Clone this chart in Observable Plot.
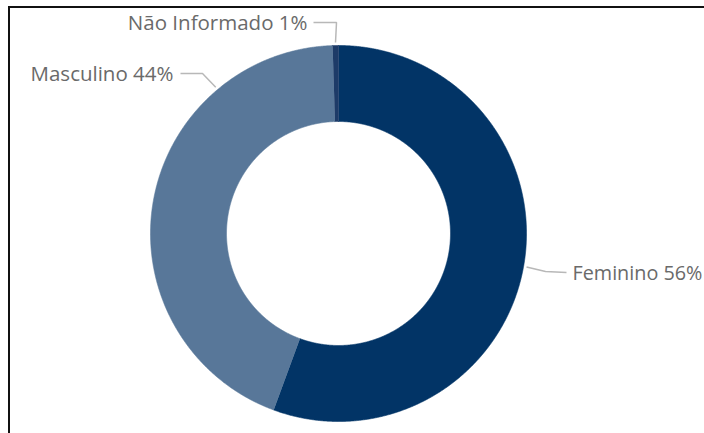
<!DOCTYPE html>
<html>
<head>
<meta charset="utf-8">
<script src="https://cdn.jsdelivr.net/npm/d3@7"></script>
<script src="https://cdn.jsdelivr.net/npm/@observablehq/plot@0.6"></script>
<style>
  html, body { margin: 0; padding: 0; background: #fff; overflow: hidden; }
</style>
</head>
<body>
<div id="chart"></div>
<script>
// ---- data ----
const categories = ["Feminino", "Masculino", "Não Informado"];
const values = [55.6, 43.9, 0.5];
const pctLabels = ["56%", "44%", "1%"];
const colors = ["#023466", "#587799", "#1d3b68"];

// ---- layout ----
const W = 704, H = 433;
const cx = 338, cy = 233, R = 188, r = 112;
const leaderLayout = {
  "Feminino":      {attach: null, elbow: [545, 271], end: [566, 272], tx: 572, ty: 273, anchor: "start", size: 19.8},
  "Masculino":     {attach: 320,  elbow: [202, 73],  end: [180, 73],  tx: 173, ty: 74,  anchor: "end", size: 20.5},
  "Não Informado": {attach: null, elbow: [336, 22],  end: [313, 22],  tx: 307, ty: 23,  anchor: "end", size: 20.5}
};

const total = d3.sum(values);
const ends = d3.cumsum(values);
const slices = categories.map((c, i) => {
  const a0 = (ends[i] - values[i]) / total * 2 * Math.PI;
  const a1 = ends[i] / total * 2 * Math.PI;
  return {cat: c, a0, a1, color: colors[i], label: `${c} ${pctLabels[i]}`};
});
const pt = (a, rad) => ({x: cx + rad * Math.sin(a), y: cy - rad * Math.cos(a)});

function slicePolygon(s) {
  const n = Math.max(2, Math.ceil((s.a1 - s.a0) / (Math.PI / 720)));
  const pts = [];
  for (let k = 0; k <= n; k++) pts.push(pt(s.a0 + (s.a1 - s.a0) * k / n, R));
  for (let k = n; k >= 0; k--) pts.push(pt(s.a0 + (s.a1 - s.a0) * k / n, r));
  return pts;
}

const leaders = [];
const labelsStart = [], labelsEnd = [];
slices.forEach(s => {
  const L = leaderLayout[s.cat];
  const a = L.attach == null ? (s.a0 + s.a1) / 2 : L.attach * Math.PI / 180;
  const p = pt(a, R + 3);
  leaders.push({cat: s.cat, x: p.x, y: p.y});
  leaders.push({cat: s.cat, x: L.elbow[0], y: L.elbow[1]});
  leaders.push({cat: s.cat, x: L.end[0], y: L.end[1]});
  (L.anchor === "start" ? labelsStart : labelsEnd).push({x: L.tx, y: L.ty, text: s.label, size: L.size});
});

const font = "'Open Sans', 'Segoe UI', sans-serif";
const chart = Plot.plot({
  width: W, height: H, margin: 0,
  style: {fontFamily: font, background: "#fff"},
  x: {domain: [0, W], range: [0, W], axis: null},
  y: {domain: [0, H], range: [0, H], axis: null},
  marks: [
    ...slices.map(s => Plot.line(slicePolygon(s), {x: "x", y: "y", fill: s.color, stroke: s.color, strokeWidth: 0.6, curve: "linear"})),
    Plot.line(leaders, {x: "x", y: "y", z: "cat", stroke: "#b8b8b8", strokeWidth: 1.5, strokeLinejoin: "miter", strokeLinecap: "butt"}),
    Plot.text(labelsEnd, {x: "x", y: "y", text: "text", textAnchor: "end", fontSize: 20.5, fill: "#6a6a6a", fontFamily: font}),
    Plot.text(labelsStart, {x: "x", y: "y", text: "text", textAnchor: "start", fontSize: 19.8, fill: "#6a6a6a", fontFamily: font}),
    Plot.ruleX([8.5], {y1: 6, y2: H, stroke: "#111", strokeWidth: 2}),
    Plot.ruleY([6.5], {x1: 8, x2: W, stroke: "#111", strokeWidth: 2})
  ]
});
document.getElementById("chart").appendChild(chart);
</script>
</body>
</html>
